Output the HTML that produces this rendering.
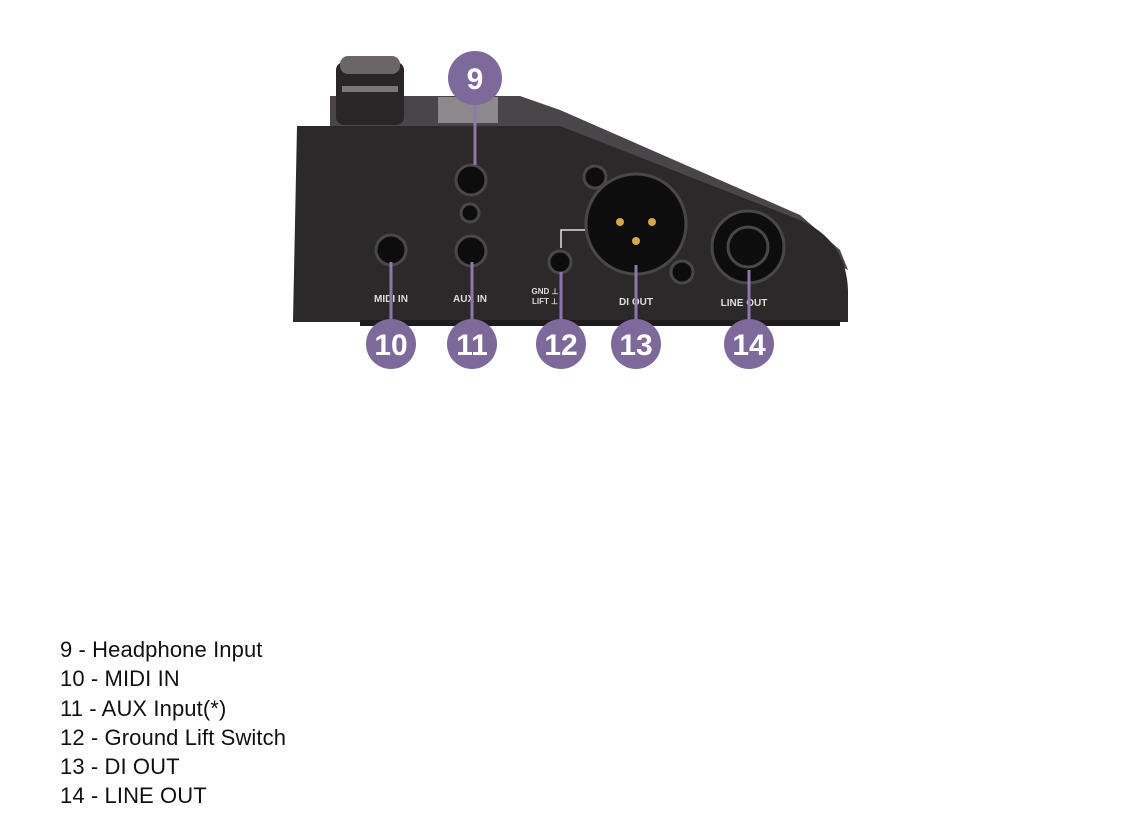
<!DOCTYPE html>
<html><head><meta charset="utf-8"><style>
body{margin:0;width:1129px;height:817px;background:#fff;position:relative;overflow:hidden;font-family:"Liberation Sans",sans-serif}
.list{position:absolute;left:60px;top:635px;font-size:22px;line-height:29.3px;color:#111;letter-spacing:0.1px}
</style></head><body>
<svg width="1129" height="817" style="position:absolute;left:0;top:0">
<polygon points="330,96 520,96 560,110 800,215 840,250 848,270 560,128 330,128" fill="#4a4548"/>
<rect x="438" y="97" width="60" height="26" fill="#8c888c"/>
<rect x="336" y="62" width="68" height="63" rx="8" fill="#2a2628"/>
<rect x="340" y="56" width="60" height="18" rx="8" fill="#6a6668"/>
<rect x="342" y="86" width="56" height="6" fill="#777"/>
<path d="M297,126 L560,126 L800,220 Q846,240 848,290 L848,322 L293,322 Z" fill="#2c292a"/>
<rect x="360" y="320" width="480" height="6" fill="#1e1c1d"/>
<g fill="#0e0d0e" stroke="#4a4749" stroke-width="3">
<circle cx="391" cy="250" r="15"/>
<circle cx="471" cy="180" r="15"/>
<circle cx="470" cy="213" r="9"/>
<circle cx="471" cy="251" r="15"/>
<circle cx="560" cy="262" r="11"/>
<circle cx="595" cy="177" r="11"/>
<circle cx="682" cy="272" r="11"/>
<circle cx="636" cy="224" r="50"/>
<circle cx="748" cy="247" r="36"/>
<circle cx="748" cy="247" r="20"/>
</g>
<g fill="#d4a84a"><circle cx="620" cy="222" r="4"/><circle cx="652" cy="222" r="4"/><circle cx="636" cy="241" r="4"/></g>
<polyline points="561,248 561,230 585,230" fill="none" stroke="#ddd" stroke-width="1.5"/>
<g fill="#ddd" font-family="Liberation Sans,sans-serif" font-size="10" font-weight="bold" text-anchor="middle">
<text x="391" y="302">MIDI IN</text><text x="470" y="302">AUX IN</text>
<text x="545" y="294" font-size="8">GND ⊥</text><text x="545" y="304" font-size="8">LIFT ⊥</text>
<text x="636" y="305">DI OUT</text><text x="744" y="306">LINE OUT</text>
</g>
<g stroke="#8c78aa" stroke-width="3">
<line x1="475" y1="100" x2="475" y2="165"/>
<line x1="391" y1="262" x2="391" y2="325"/>
<line x1="472" y1="262" x2="472" y2="325"/>
<line x1="561" y1="272" x2="561" y2="325"/>
<line x1="636" y1="265" x2="636" y2="325"/>
<line x1="749" y1="270" x2="749" y2="325"/>
</g>
<g fill="#7d6a9b">
<circle cx="475" cy="78" r="27"/>
<circle cx="391" cy="344" r="25"/><circle cx="472" cy="344" r="25"/>
<circle cx="561" cy="344" r="25"/><circle cx="636" cy="344" r="25"/><circle cx="749" cy="344" r="25"/>
</g>
<g fill="#fff" font-family="Liberation Sans,sans-serif" font-size="30" font-weight="bold" text-anchor="middle">
<text x="475" y="89">9</text>
<text x="391" y="355">10</text><text x="472" y="355">11</text>
<text x="561" y="355">12</text><text x="636" y="355">13</text><text x="749" y="355">14</text>
</g>
</svg>
<div class="list">9 - Headphone Input<br>10 - MIDI IN<br>11 - AUX Input(*)<br>12 - Ground Lift Switch<br>13 - DI OUT<br>14 - LINE OUT</div>
</body></html>
